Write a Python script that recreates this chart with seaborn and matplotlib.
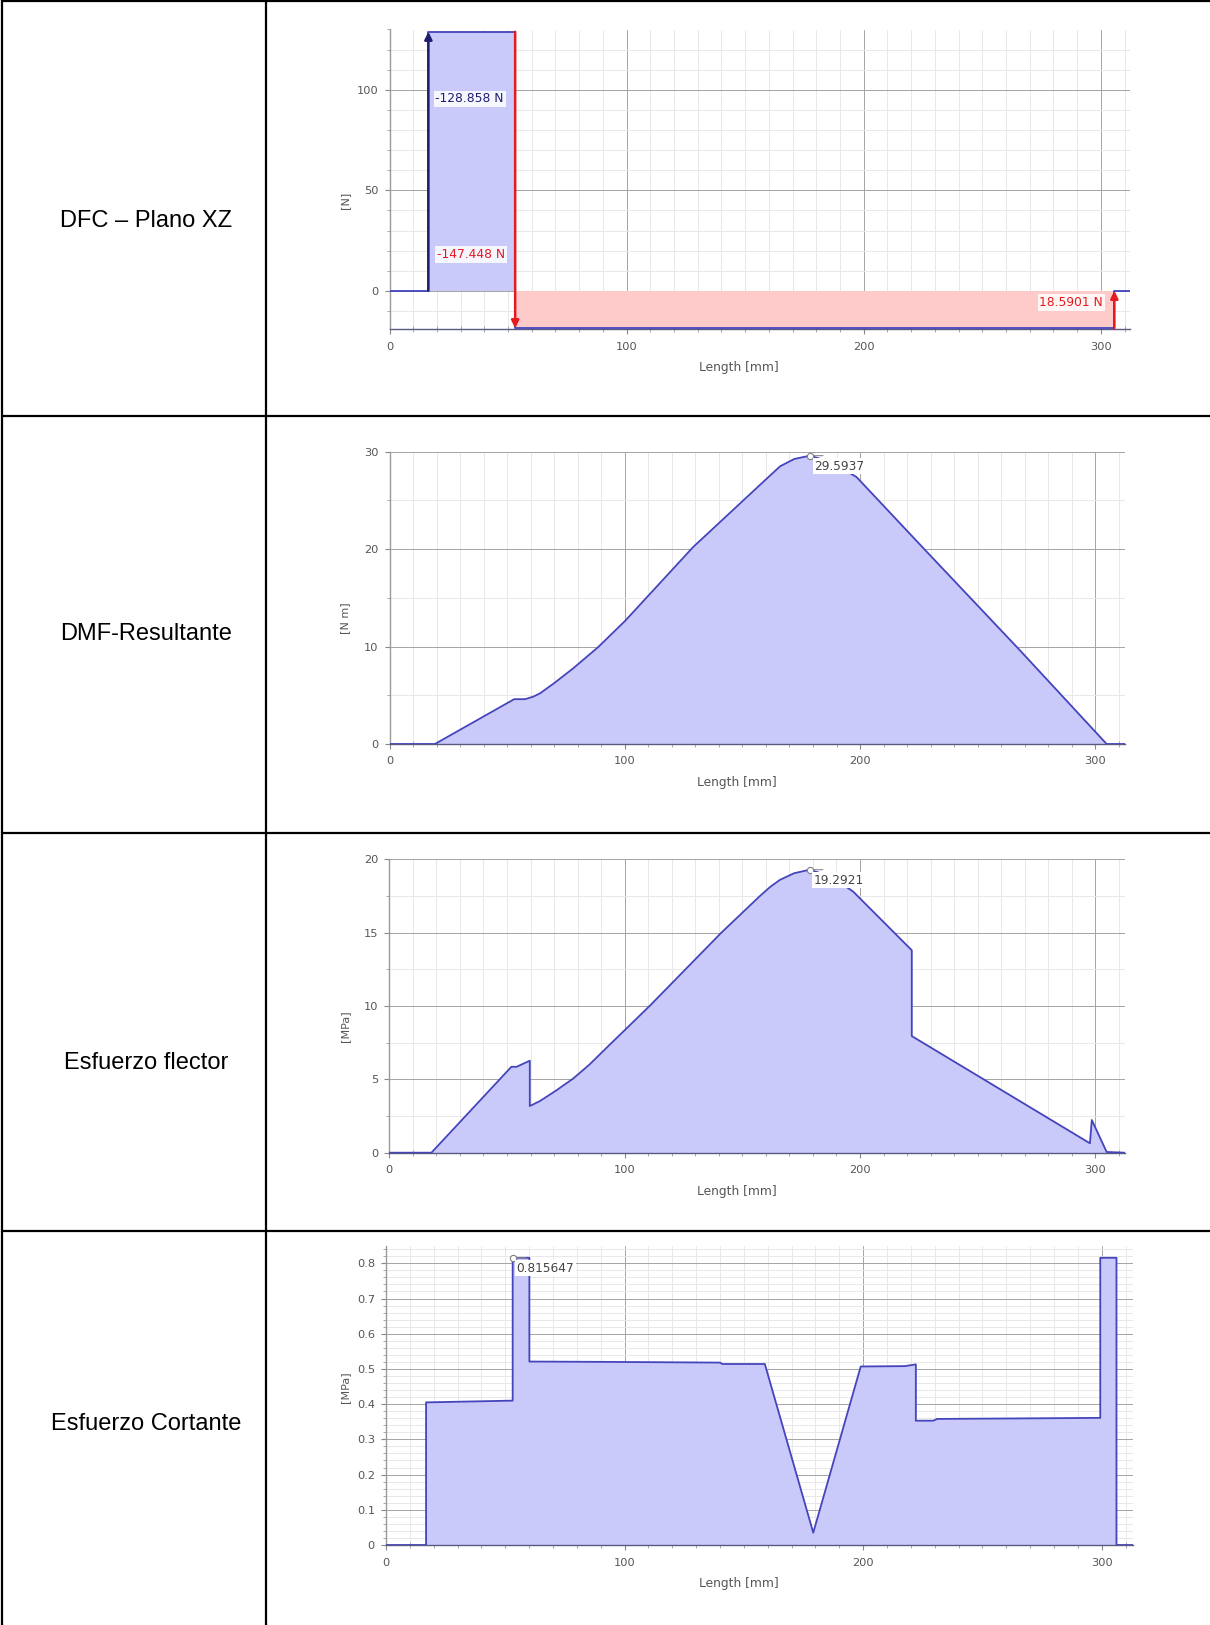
import numpy as np
import pandas as pd
import matplotlib
matplotlib.use("Agg")
import matplotlib.pyplot as plt
import seaborn as sns
from matplotlib.lines import Line2D
from matplotlib.ticker import MultipleLocator

# ---- data ----
row_labels = ["DFC \u2013 Plano XZ", "DMF-Resultante", "Esfuerzo flector", "Esfuerzo Cortante"]

# shear force diagram, XZ plane [N] vs length [mm]
dfc_x = [0, 16.4, 16.4, 53.0, 53.0, 305.7, 305.7, 312.3]
dfc_v = [0, 0, 128.858, 128.858, -18.5901, -18.5901, 0, 0]
force_x = [16.4, 53.0, 305.7]
force_from = [0, 128.858, -18.5901]
force_to = [128.858, -18.5901, 0]
force_text = ["-128.858 N", "-147.448 N", "18.5901 N"]

# resulting bending moment [N m]
dmf_x = [0, 19.3, 53.0, 57.6, 61.0, 64.0, 70.0, 78.0, 88.7, 100.0, 129.0, 157.5, 166.0,
         172.0, 178.7, 188.0, 198.5, 226.9, 268.0, 304.8, 312.6]
dmf_y = [0, 0, 4.6, 4.6, 4.85, 5.2, 6.25, 7.75, 9.95, 12.6, 20.2, 26.6, 28.5,
         29.25, 29.5937, 28.9, 27.4, 20.1, 9.6, 0, 0]
dmf_peak = (178.7, 29.5937)

# bending stress [MPa]
flex_x = [0, 17.9, 51.9, 54.0, 59.7, 59.7, 64.0, 71.0, 78.1, 85.0, 92.3, 110.6, 141.1,
          157.5, 161.7, 166.0, 172.0, 178.7, 188.0, 197.1, 222.0, 222.0, 251.0,
          297.7, 298.5, 304.8, 312.6]
flex_y = [0, 0, 5.86, 5.85, 6.27, 3.18, 3.52, 4.25, 5.05, 6.0, 7.15, 10.0, 15.0,
          17.5, 18.1, 18.6, 19.05, 19.2921, 18.8, 17.8, 13.8, 7.95, 5.15,
          0.64, 2.23, 0.05, 0]
flex_peak = (178.7, 19.2921)

# shear stress [MPa]
shear_x = [0, 16.8, 16.8, 53.1, 53.1, 60.1, 60.1, 92.5, 140.0, 141.0, 158.8, 179.1,
           199.0, 217.5, 222.1, 222.1, 229.4, 231.0, 299.4, 299.4, 306.2, 306.2, 313.0]
shear_y = [0, 0, 0.405, 0.41, 0.815647, 0.815647, 0.521, 0.52, 0.518, 0.514, 0.514, 0.035,
           0.507, 0.508, 0.513, 0.353, 0.353, 0.358, 0.361, 0.815647, 0.815647, 0, 0]
shear_peak = (53.1, 0.815647)

x_ticks = [0, 100, 200, 300]

# ---- styling ----
W, H, DPI = 1210, 1625, 100
LINE = "#4444bc"
FILL = "#c9c9fa"
RED = "#e5191e"
RED_FILL = "#ffcaca"
NAVY = "#1f1f70"
TICK_C = "#555555"

sns.set_theme(style="white")
plt.rcParams['font.family'] = ['DejaVu Sans']

fig = plt.figure(figsize=(W / DPI, H / DPI), dpi=DPI)
fig.patch.set_facecolor("white")


def px_axes(left, top, right, bottom):
    return fig.add_axes([left / W, 1 - bottom / H, (right - left) / W, (bottom - top) / H])


def style_axes(ax, box, xmax, ylim, ymajor, yminor, ylabel, ylab_y):
    left, top, right, bottom = box
    w, h = right - left, bottom - top
    ax.set_xlim(0, xmax)
    ax.set_ylim(*ylim)
    ax.set_facecolor("white")
    ax.xaxis.set_major_locator(plt.FixedLocator(x_ticks))
    ax.xaxis.set_minor_locator(MultipleLocator(10))
    ax.yaxis.set_major_locator(MultipleLocator(ymajor))
    ax.yaxis.set_minor_locator(MultipleLocator(yminor))
    ax.grid(which="major", color="#a4a4a4", lw=0.7, zorder=0)
    ax.grid(which="minor", color="#e8e8e8", lw=0.7, zorder=0)
    ax.set_axisbelow(True)
    for s in ["top", "right"]:
        ax.spines[s].set_visible(False)
    ax.spines["left"].set_color("#9a9a9a")
    ax.spines["bottom"].set_color("#5a5a80")
    ax.spines["left"].set_linewidth(1.0)
    ax.spines["bottom"].set_linewidth(1.0)
    ax.tick_params(axis="both", which="major", labelsize=8.2, labelcolor=TICK_C,
                   color="#888888", length=3.5, width=0.8, direction="out",
                   bottom=True, left=True)
    ax.tick_params(axis="y", which="major", pad=4.5)
    ax.tick_params(axis="x", which="major", pad=5.5)
    ax.tick_params(axis="both", which="minor", color="#999999", length=2.5, width=0.6,
                   bottom=True, left=True)
    ax.tick_params(axis="x", which="minor", direction="inout", length=4)
    ax.set_xlabel("Length [mm]", fontsize=8.8, color=TICK_C)
    ax.set_ylabel(ylabel, fontsize=8, color=TICK_C)
    ax.xaxis.set_label_coords(0.472, -32 / h)
    ax.yaxis.set_label_coords((350 - left) / w, ylab_y)


def peak_label(ax, pt, text):
    ax.annotate("", pt, xytext=(13, 0), textcoords="offset pixels",
                arrowprops=dict(arrowstyle="-", color="#888888", lw=0.8,
                                shrinkA=0, shrinkB=3), zorder=6)
    ax.plot([pt[0]], [pt[1]], marker="o", ms=4.5, mfc="white", mec="#808080", mew=0.8,
            zorder=6, clip_on=False)
    ax.annotate(text, pt, xytext=(4, -4), textcoords="offset pixels", ha="left", va="top",
                fontsize=8.7, color="#444444", zorder=7,
                bbox=dict(boxstyle="square,pad=0.12", fc="white", ec="none"))


def curve(ax, xs, ys):
    df = pd.DataFrame({"x": xs, "y": ys})
    ax.fill_between(df["x"], 0, df["y"], color=FILL, lw=0, zorder=2)
    sns.lineplot(data=df, x="x", y="y", ax=ax, sort=False, estimator=None,
                 color=LINE, lw=1.3, zorder=4)
    ax.set_xlabel("")
    ax.set_ylabel("")


# ---- table frame ----
row_lines = [1, 416, 833, 1231]
for y in row_lines:
    fig.add_artist(Line2D([2 / W, 1], [1 - y / H, 1 - y / H], color="black", lw=1.6,
                          transform=fig.transFigure))
for x in [2, 266]:
    fig.add_artist(Line2D([x / W, x / W], [0, 1], color="black", lw=1.6,
                          transform=fig.transFigure))

row_centers = [221, 634, 1063, 1424]
for lab, yc in zip(row_labels, row_centers):
    fig.text(146 / W, 1 - yc / H, lab, ha="center", va="center", fontsize=17,
             color="black", family=["Liberation Sans", "DejaVu Sans"])

# ---- chart 1: DFC ----
box1 = (389.5, 29.5, 1130, 329)
ax1 = px_axes(*box1)
d1 = pd.DataFrame({"x": dfc_x, "v": dfc_v})
ax1.fill_between(d1["x"], 0, d1["v"], where=d1["v"] > 0, color=FILL, lw=0, zorder=2)
ax1.fill_between(d1["x"], 0, d1["v"], where=d1["v"] < 0, color=RED_FILL, lw=0, zorder=2)
sns.lineplot(data=d1, x="x", y="v", ax=ax1, sort=False, estimator=None,
             color=LINE, lw=1.3, zorder=4)
style_axes(ax1, box1, 312.3, (-19, 130), 50, 10, "[N]", 0.43)
arrow_cols = [NAVY, RED, RED]
for fx, f0, f1, c in zip(force_x, force_from, force_to, arrow_cols):
    ax1.annotate("", xy=(fx, f1), xytext=(fx, f0),
                 arrowprops=dict(arrowstyle="-|>", color=c, lw=1.8, mutation_scale=11,
                                 shrinkA=0, shrinkB=0), zorder=5)
bb = dict(boxstyle="square,pad=0.15", fc="white", ec="none", alpha=0.85)
ax1.text(19.4, 95.5, force_text[0], color=NAVY, fontsize=8.8, va="center", ha="left",
         bbox=bb, zorder=6)
ax1.text(20.0, 18.2, force_text[1], color=RED, fontsize=8.8, va="center", ha="left",
         bbox=bb, zorder=6)
ax1.text(301.0, -5.7, force_text[2], color=RED, fontsize=8.8, va="center", ha="right",
         bbox=bb, zorder=6)

# ---- chart 2: DMF ----
box2 = (389.5, 451.7, 1125, 744)
ax2 = px_axes(*box2)
curve(ax2, dmf_x, dmf_y)
style_axes(ax2, box2, 312.6, (0, 30), 10, 5, "[N m]", 0.432)
peak_label(ax2, dmf_peak, "29.5937")

# ---- chart 3: bending stress ----
box3 = (389.3, 859.3, 1125, 1152.7)
ax3 = px_axes(*box3)
curve(ax3, flex_x, flex_y)
style_axes(ax3, box3, 312.6, (0, 20), 5, 2.5, "[MPa]", 0.432)
peak_label(ax3, flex_peak, "19.2921")

# ---- chart 4: shear stress ----
box4 = (386, 1245.7, 1132.7, 1545)
ax4 = px_axes(*box4)
curve(ax4, shear_x, shear_y)
style_axes(ax4, box4, 313, (0, 0.85), 0.1, 0.02, "[MPa]", 0.527)
ax4.yaxis.set_major_formatter(plt.FuncFormatter(lambda v, p: "0" if abs(v) < 1e-9 else f"{v:.1f}"))
peak_label(ax4, shear_peak, "0.815647")

fig.savefig("out.png", dpi=DPI, facecolor="white")
